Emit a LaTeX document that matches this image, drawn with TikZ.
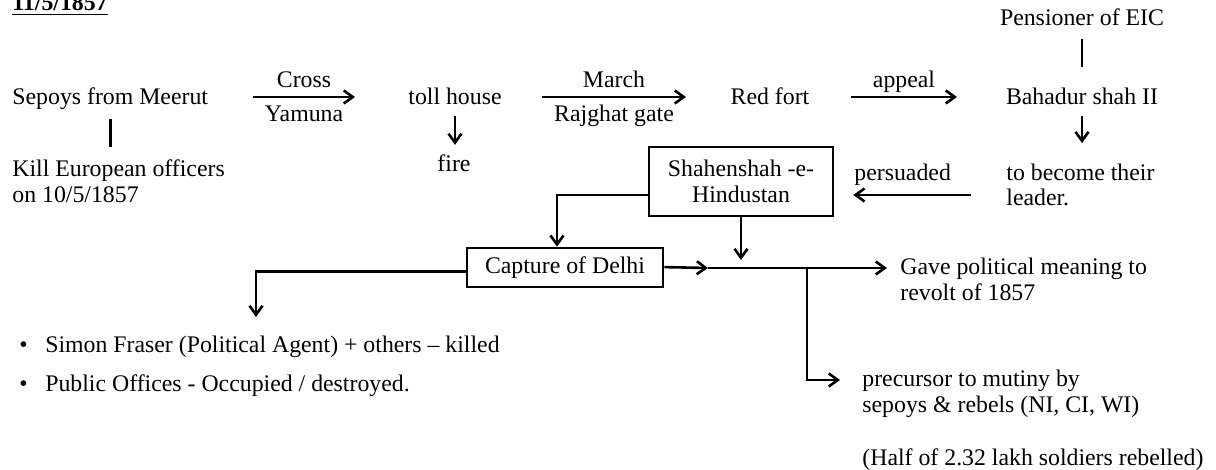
\documentclass[tikz,border=0pt]{standalone}
\usepackage{fontspec}
\setmainfont{Liberation Serif}
\usetikzlibrary{arrows.meta}
\usetikzlibrary{positioning}

\begin{document}
\begin{tikzpicture}[x=0.5pt,y=-0.5pt,
  every node/.style={inner sep=0pt,font=\fontsize{11.9}{13}\selectfont},
  box/.style={draw,line width=1.3pt,align=center},
  txt/.style={anchor=base west,align=left},
  over/.style={anchor=base,yshift=4.5pt},
  under/.style={anchor=base,yshift=-12.5pt},
  >={Straight Barb[length=4.5pt,width=6.5pt]},
  link/.style={line width=1.3pt}]
\useasboundingbox (0,0) rectangle (1216,470);
\node[txt] (title) at (12,11) {\textbf{\underline{11/5/1857}}};
% top row
\node[txt] (sep) at (12,105) {Sepoys from Meerut};
\node[txt] (kill) at (12,203) {Kill European officers\\on 10/5/1857};
\node[anchor=base] (toll) at (455,105) {toll house};
\node[anchor=base] (fire) at (454,172) {fire};
\node[anchor=base] (red) at (770,105) {Red fort};
\node[anchor=base] (bah) at (1082,105) {Bahadur shah II};
\node[anchor=base] (pen) at (1082,26) {Pensioner of EIC};
\node[txt] (lead) at (1006,206) {to become their\\leader.};
\coordinate (c1s) at (253,97);  \coordinate (c1e) at (355,97);
\coordinate (c2s) at (542,97);  \coordinate (c2e) at (686,97);
\coordinate (c3s) at (851,97);  \coordinate (c3e) at (957,97);
\coordinate (c4s) at (971,195);
\draw[link,shorten <=4pt,shorten >=6.5pt] (sep.south) -- (sep.south |- kill.north);
\draw[link,->] (c1s) -- (c1e) node[midway,over] {Cross} node[midway,under] {Yamuna};
\draw[link,->,shorten <=5pt,shorten >=5pt] (toll.south) -- (toll.south |- fire.north);
\draw[link,->] (c2s) -- (c2e) node[midway,over] {March} node[midway,under] {Rajghat gate};
\draw[link,->] (c3s) -- (c3e) node[midway,over] {appeal};
\draw[link,shorten <=6pt,shorten >=10.5pt] (pen.south) -- (bah.north);
\draw[link,->,shorten <=5pt,shorten >=10pt] (bah.south) -- (bah.south |- lead.north);
% middle
\node[box,minimum width=92pt,minimum height=34.5pt] (shah) at (741,181.5) {Shahenshah -e-\\Hindustan};
\node[box,minimum width=98pt,minimum height=19.5pt] (cap) at (565,267.5) {Capture of Delhi};
\draw[link,->,shorten >=9.5pt] (c4s) -- (shah.east |- c4s) node[midway,anchor=base,yshift=7pt] {persuaded};
\draw[link,->] ([yshift=-6.75pt]shah.west) -| ([xshift=-4pt]cap.north);
\coordinate (jn) at (741,268);
\coordinate (t1) at (708,268);
\coordinate (t2) at (887,268);
\coordinate (br) at (807,268);
\coordinate (t3) at (840,380);
\coordinate (t4) at (256,317);
\draw[link,->,shorten >=4pt] (shah.south) -- (jn);
\draw[link,->] ([yshift=0.2pt]cap.east) -- (t1);
\draw[link,->] (t1) -- (t2);
\draw[link,->] (br) |- (t3);
\draw[link,->] ([yshift=-2pt]cap.west) -| (t4);
% results
\node[txt] (gave) at (900,300) {Gave political meaning to\\revolt of 1857};
\node[txt] (prec) at (862,412) {precursor to mutiny by\\sepoys \& rebels (NI, CI, WI)};
\node[txt] (half) at (862,465) {(Half of 2.32 lakh soldiers rebelled)};
\node[txt] (simon) at (19,353) {\textbullet\hspace{8.8pt}Simon Fraser (Political Agent) + others – killed};
\node[txt] (pub) at (19,392) {\textbullet\hspace{8.8pt}Public Offices - Occupied / destroyed.};
\end{tikzpicture}
\end{document}
